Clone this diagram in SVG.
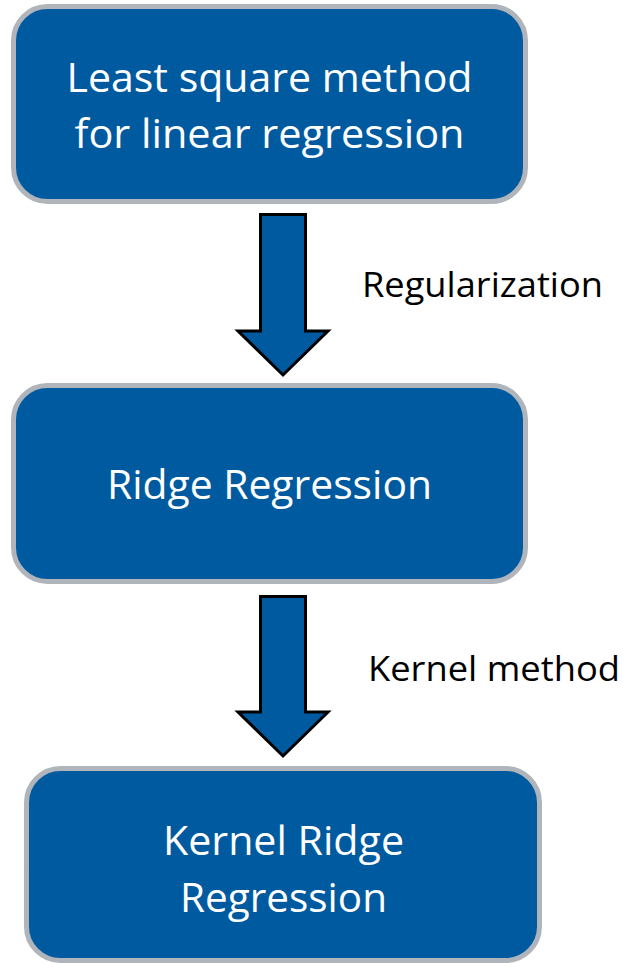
<svg xmlns="http://www.w3.org/2000/svg" width="626" height="963" viewBox="0 0 626 963">
<style>
.box{fill:#005AA0;stroke:#AFB5BA;stroke-width:5}
.bt{font-family:"Open Sans","Noto Sans",sans-serif;font-size:41px;fill:#FFFFFF;text-anchor:middle}
.lbl{font-family:"Open Sans","Noto Sans",sans-serif;font-size:34px;fill:#000000}
.arr{fill:#005AA0;stroke:#000000;stroke-width:3;stroke-linejoin:miter}
</style>
<rect width="626" height="963" fill="#FFFFFF"/>
<g id="node-least-square">
<rect class="box" x="13.5" y="6.5" width="512" height="195" rx="34"/>
<text class="bt" x="269.5" y="92" textLength="406" lengthAdjust="spacingAndGlyphs">Least square method</text>
<text class="bt" x="269.5" y="148" textLength="390" lengthAdjust="spacingAndGlyphs">for linear regression</text>
</g>
<g id="node-ridge">
<rect class="box" x="13.5" y="385.5" width="512" height="196" rx="34"/>
<text class="bt" x="269.5" y="499" textLength="325" lengthAdjust="spacingAndGlyphs">Ridge Regression</text>
</g>
<g id="node-kernel-ridge">
<rect class="box" x="26.5" y="768.5" width="513" height="192" rx="34"/>
<text class="bt" x="283.5" y="855" textLength="241" lengthAdjust="spacingAndGlyphs">Kernel Ridge</text>
<text class="bt" x="283.5" y="912" textLength="207" lengthAdjust="spacingAndGlyphs">Regression</text>
</g>
<g id="connectors">
<polygon class="arr" points="260.5,214.5 305.5,214.5 305.5,331 328,331 283,375 238,331 260.5,331"/>
<text class="lbl" x="362" y="297" textLength="241" lengthAdjust="spacingAndGlyphs">Regularization</text>
<polygon class="arr" points="260.5,596.5 305.5,596.5 305.5,712 328,712 283,756 238,712 260.5,712"/>
<text class="lbl" x="368" y="681" textLength="252" lengthAdjust="spacingAndGlyphs">Kernel method</text>
</g>
</svg>
